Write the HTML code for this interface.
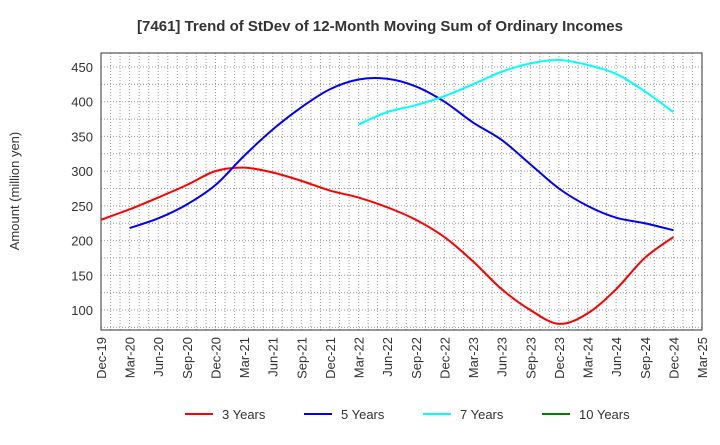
<!DOCTYPE html>
<html><head><meta charset="utf-8"><style>
body{margin:0;background:#fff;font-family:"Liberation Sans",sans-serif}
</style></head><body>
<svg id="c" width="720" height="440" xmlns="http://www.w3.org/2000/svg">
<text x="380" y="31" text-anchor="middle" font-size="15" font-weight="bold" fill="#333">[7461]  Trend of StDev of 12-Month Moving Sum of Ordinary Incomes</text>
<text transform="translate(19,191) rotate(-90)" text-anchor="middle" font-size="13" fill="#333">Amount (million yen)</text>
<g id="grid"></g><g id="axes"></g><g id="series"></g><g id="legend"></g>
</svg>
<script>
const xLabels=["Dec-19","Mar-20","Jun-20","Sep-20","Dec-20","Mar-21","Jun-21","Sep-21","Dec-21","Mar-22","Jun-22","Sep-22","Dec-22","Mar-23","Jun-23","Sep-23","Dec-23","Mar-24","Jun-24","Sep-24","Dec-24","Mar-25"];
const yTicks=[100,150,200,250,300,350,400,450];
const seriesNames=["3 Years","5 Years","7 Years","10 Years"];
const seriesColors=["#ff0000","#0000ff","#00ffff","#008000"];
const seriesStart=[0,1,9,0];
const s3=[230,245,262,280,300,305,298,286,272,262,248,230,205,170,130,100,80,95,130,175,205];
const s5=[218,232,252,280,322,360,392,418,432,433,422,400,370,345,310,275,250,233,225,215];
const s7=[367,385,395,408,425,443,455,460,453,440,415,385];
const s10=[];
const allSeries=[s3,s5,s7,s10];
const NS="http://www.w3.org/2000/svg";
const L=101,R=702,T=53,B=330;
const X=i=>L+i*(R-L)/(xLabels.length-1);
const Y=v=>67+(450-v)*(310-67)/350;
function mk(t,a,p){const e=document.createElementNS(NS,t);for(const k in a)e.setAttribute(k,a[k]);p.appendChild(e);return e;}
const g=document.getElementById('grid'),ax=document.getElementById('axes'),se=document.getElementById('series'),lg=document.getElementById('legend');
for(let m=1;m<(xLabels.length-1)*3;m++){const x=L+m*(R-L)/((xLabels.length-1)*3);
 const l=mk('line',{x1:x,x2:x,y1:T,y2:B,stroke:'#999','stroke-dasharray':'1,2','stroke-width':1},g);
 
 }
for(let v=75;v<=475;v+=25){const y=Y(v);if(y<T||y>B)continue;
 const l=mk('line',{x1:L,x2:R,y1:y,y2:y,stroke:'#999','stroke-dasharray':'1,2','stroke-width':1},g);
 
 }
const fr=mk('rect',{x:L,y:T,width:R-L,height:B-T,fill:'none',stroke:'#333','stroke-width':1},ax);


yTicks.forEach(v=>{const t=mk('text',{x:L-8,y:Y(v)+5,'text-anchor':'end','font-size':13,fill:'#333'},ax);t.textContent=v;
 
 });
xLabels.forEach((s,i)=>{const t=mk('text',{transform:`translate(${X(i)+5},${B+7}) rotate(-90)`,'text-anchor':'end','font-size':13,fill:'#333'},ax);t.textContent=s;
 
 });
function path(pts){let d=`M${pts[0][0]},${pts[0][1]}`;for(let i=0;i<pts.length-1;i++){const p0=pts[i-1]||pts[i],p1=pts[i],p2=pts[i+1],p3=pts[i+2]||p2;
 d+=` C${p1[0]+(p2[0]-p0[0])/6},${p1[1]+(p2[1]-p0[1])/6} ${p2[0]-(p3[0]-p1[0])/6},${p2[1]-(p3[1]-p1[1])/6} ${p2[0]},${p2[1]}`;}return d;}
allSeries.forEach((s,k)=>{if(s.length<2)return;const pts=s.map((v,i)=>[X(i+seriesStart[k]),Y(v)]);
 const p=mk('path',{d:path(pts),fill:'none',stroke:seriesColors[k],'stroke-width':2},se);
 
 });
const lx=[185,304,423,542];
seriesNames.forEach((n,k)=>{const gg=mk('g',{},lg);
 
 
 mk('line',{x1:lx[k],x2:lx[k]+28,y1:414,y2:414,stroke:seriesColors[k],'stroke-width':2},gg);
 const t=mk('text',{x:lx[k]+37,y:419,'font-size':13,fill:'#333'},gg);t.textContent=n;});
</script>
</body></html>
